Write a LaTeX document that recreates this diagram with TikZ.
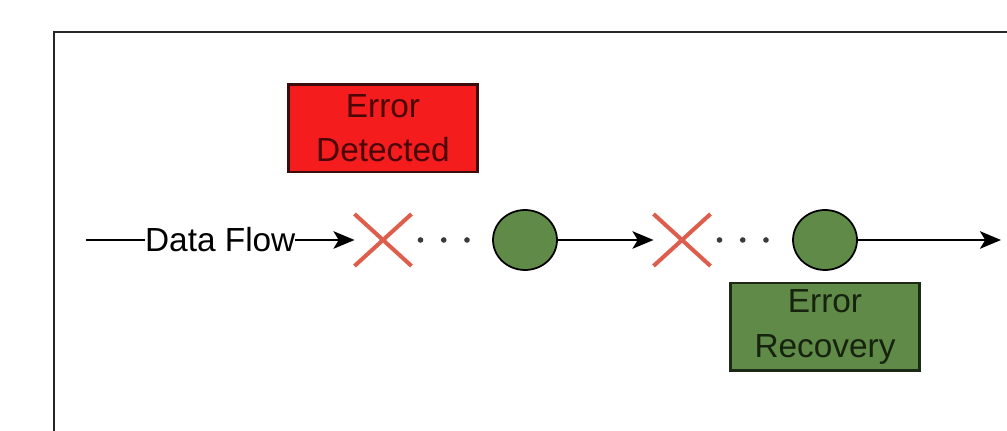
\documentclass[tikz,border=0pt]{standalone}
\usepackage{fontspec}
\setmainfont{Liberation Sans}
\usetikzlibrary{arrows.meta,positioning,shapes.misc,shapes.geometric}
\definecolor{hataKirmizi}{HTML}{F41C1C}
\definecolor{hataKenar}{HTML}{3A0C0C}
\definecolor{hataYazi}{HTML}{4A0606}
\definecolor{carpiRengi}{HTML}{DE5E4E}
\definecolor{kurtarmaYesil}{HTML}{5F8A47}
\definecolor{yesilKenar}{HTML}{1C2A15}
\definecolor{yesilYazi}{HTML}{16230F}
\definecolor{noktaGri}{HTML}{3A3A3A}

\begin{document}
\begin{tikzpicture}[x=0.02cm, y=-0.02cm,
  every node/.style={font=\fontsize{19}{25.5}\selectfont},
  akis/.style={-{Stealth[length=12pt,width=10pt,inset=3pt]},line width=1.1pt,black},
  carpi/.style={cross out,draw=carpiRengi,line width=2.3pt,
                minimum width=1.14cm,minimum height=1.04cm,inner sep=0pt,outer sep=0pt},
  dugum/.style={ellipse,draw=black,line width=1pt,fill=kurtarmaYesil,
                minimum width=1.28cm,minimum height=1.2cm,inner sep=0pt},
  noktali/.style={noktaGri,line width=3.2pt,line cap=round,
                  dash pattern=on 0pt off 0.465cm,shorten <=0.18cm,shorten >=0.18cm},
  kutu/.style={rectangle,line width=1.3pt,minimum width=3.78cm,minimum height=1.75cm,
               align=center,inner sep=0pt}]
\useasboundingbox (0,0) rectangle (1007,431);
% frame
\draw[line width=1.5pt,black!85] (54,431) -- (54,32) -- (1007,32);

\coordinate (bas) at (86,240);
\node[carpi] (x1) at (383,240) {};
\node[dugum] (c1) at (525,240) {};
\node[carpi] (x2) at (682,240) {};
\node[dugum] (c2) at (825,240) {};
\coordinate (son) at (1001,240);

\node[kutu,draw=hataKenar,fill=hataKirmizi,text=hataYazi,above=0.82cm of x1] (tespit) {Error\\Detected};
\node[kutu,draw=yesilKenar,fill=kurtarmaYesil,text=yesilYazi,below=0.22cm of c2] (kurtarma) {Error\\Recovery};

\draw[akis] (bas) -- node[fill=white,inner sep=0pt]{Data Flow} (x1);
\draw[noktali] (x1) -- (c1);
\draw[akis] (c1) -- (x2);
\draw[noktali] (x2) -- (c2);
\draw[akis] (c2) -- (son);
\end{tikzpicture}
\end{document}
